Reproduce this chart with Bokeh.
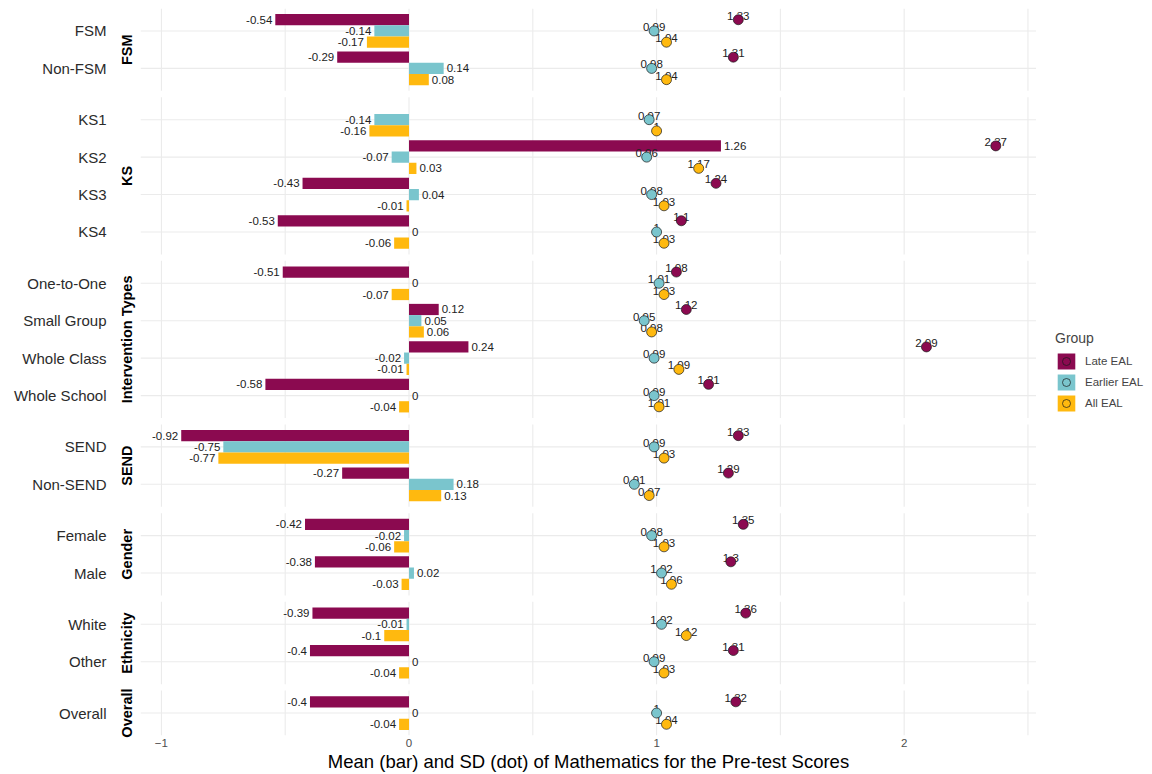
from bokeh.plotting import figure
from bokeh.layouts import row
from bokeh.models import ColumnDataSource, Range1d, LinearAxis, FixedTicker, Legend, LegendItem
from bokeh.core.properties import value
from bokeh.embed import file_html
from bokeh.resources import INLINE

# ---------------- data ----------------
facets = ["FSM", "KS", "Intervention Types", "SEND", "Gender", "Ethnicity", "Overall"]
categories = [
    ["FSM", "Non-FSM"],
    ["KS1", "KS2", "KS3", "KS4"],
    ["One-to-One", "Small Group", "Whole Class", "Whole School"],
    ["SEND", "Non-SEND"],
    ["Female", "Male"],
    ["White", "Other"],
    ["Overall"],
]
groups = ["Late EAL", "Earlier EAL", "All EAL"]
colors = ["#8B0A50", "#7AC5CD", "#FFB90F"]

mean_late = [-0.54, -0.29, None, 1.26, -0.43, -0.53, -0.51, 0.12, 0.24, -0.58,
             -0.92, -0.27, -0.42, -0.38, -0.39, -0.4, -0.4]
mean_earlier = [-0.14, 0.14, -0.14, -0.07, 0.04, 0, 0, 0.05, -0.02, 0,
                -0.75, 0.18, -0.02, 0.02, -0.01, 0, 0]
mean_all = [-0.17, 0.08, -0.16, 0.03, -0.01, -0.06, -0.07, 0.06, -0.01, -0.04,
            -0.77, 0.13, -0.06, -0.03, -0.1, -0.04, -0.04]
sd_late = [1.33, 1.31, None, 2.37, 1.24, 1.1, 1.08, 1.12, 2.09, 1.21,
           1.33, 1.29, 1.35, 1.3, 1.36, 1.31, 1.32]
sd_earlier = [0.99, 0.98, 0.97, 0.96, 0.98, 1, 1.01, 0.95, 0.99, 0.99,
              0.99, 0.91, 0.98, 1.02, 1.02, 0.99, 1]
sd_all = [1.04, 1.04, 1, 1.17, 1.03, 1.03, 1.03, 0.98, 1.09, 1.01,
          1.03, 0.97, 1.03, 1.06, 1.12, 1.03, 1.04]

x_ticks = [-1, 0, 1, 2]
x_title = "Mean (bar) and SD (dot) of Mathematics for the Pre-test Scores"

means = [mean_late, mean_earlier, mean_all]
sds = [sd_late, sd_earlier, sd_all]

# ---------------- facet layout (vertical units) ----------------
CAT, EXP, GAP, DODGE = 100, 60, 17, 30
ypos, facet_bounds, facet_centers = [], [], []
top = 0
for cats in categories:
    n = len(cats)
    bottom = top + CAT * (n - 1) + 2 * EXP
    for i in range(n):
        ypos.append(top + EXP + CAT * i)
    facet_bounds.append((top, bottom))
    facet_centers.append((top + bottom) // 2)
    top = bottom + GAP
total = top - GAP
cat_names = [c for cats in categories for c in cats]

vals = [v for m in means for v in m if v is not None] + [0]
vals += [v for s in sds for v in s if v is not None]
lo, hi = min(vals), max(vals)
pad = 0.05 * (hi - lo)
xmin, xmax = lo - pad, hi + pad

FONT = "Liberation Sans"
FW, FH = 896, 727
LEFT, TOP, BOTTOM, RIGHT_W = 140, 8, 39, 116

p = figure(frame_width=FW, frame_height=FH, x_range=Range1d(xmin, xmax), y_range=Range1d(total, 0),
           output_backend="svg", toolbar_location=None, y_axis_location=None,
           min_border_left=LEFT, min_border_right=0, min_border_top=TOP, min_border_bottom=BOTTOM,
           outline_line_color=None, background_fill_color="white")
p.grid.visible = False

# gridlines per panel
grid_x = [k * 0.5 for k in range(-10, 11) if xmin <= k * 0.5 <= xmax]
gx0, gy0, gy1 = [], [], []
for (t, b) in facet_bounds:
    for gx in grid_x:
        gx0.append(gx); gy0.append(t); gy1.append(b)
p.segment(x0=gx0, x1=gx0, y0=gy0, y1=gy1, line_color="#EBEBEB", line_width=1.1)
p.segment(x0=[xmin] * len(ypos), x1=[xmax] * len(ypos), y0=ypos, y1=ypos,
          line_color="#EBEBEB", line_width=1.1)

offsets = [-DODGE, 0, DODGE]

def fmt(v):
    return f"{v:g}"

srcs = []
for gi in range(3):
    ys, ms, ss = [], [], []
    for k in range(len(ypos)):
        if means[gi][k] is None:
            continue
        ys.append(ypos[k] + offsets[gi]); ms.append(means[gi][k]); ss.append(sds[gi][k])
    srcs.append(ColumnDataSource(dict(y=ys, m=ms, s=ss, ts=[fmt(v) for v in ss])))

for gi in range(3):
    p.hbar(y="y", left=0, right="m", height=DODGE, line_color=None,
           source=srcs[gi], fill_color=colors[gi])

# bar labels
for gi in range(3):
    d = srcs[gi].data
    neg = dict(y=[], m=[], t=[])
    pos = dict(y=[], m=[], t=[])
    for y, m in zip(d["y"], d["m"]):
        tgt = neg if m < 0 else pos
        tgt["y"].append(y); tgt["m"].append(m); tgt["t"].append(fmt(m))
    p.text(x="m", y="y", text="t", source=ColumnDataSource(neg), text_align="right",
           text_baseline="middle", x_offset=-3, text_font=value(FONT),
           text_font_size=value("11.5px"), text_color="#222222")
    p.text(x="m", y="y", text="t", source=ColumnDataSource(pos), text_align="left",
           text_baseline="middle", x_offset=3, text_font=value(FONT),
           text_font_size=value("11.5px"), text_color="#222222")

# dot labels
for gi in range(3):
    p.text(x="s", y="y", text="ts", source=srcs[gi],
           text_align="center", text_baseline="alphabetic", y_offset=-4,
           text_font=value(FONT), text_font_size=value("11.5px"), text_color="#222222")

# dots
for gi in range(3):
    p.scatter(x="s", y="y", marker="circle", size=10, line_color="#1a1a1a", line_width=0.7,
              source=srcs[gi], fill_color=colors[gi])

# axes
def plain(ax):
    ax.axis_line_color = None
    ax.major_tick_line_color = None
    ax.minor_tick_line_color = None
    ax.major_tick_out = 0
    ax.major_tick_in = 0

strip_axis = LinearAxis(ticker=FixedTicker(ticks=facet_centers),
                        major_label_overrides={c: f for c, f in zip(facet_centers, facets)},
                        major_label_orientation="vertical")
plain(strip_axis)
strip_axis.major_label_text_font = FONT
strip_axis.major_label_text_font_style = "bold"
strip_axis.major_label_text_font_size = "14.5px"
strip_axis.major_label_text_color = "black"
strip_axis.major_label_standoff = 5
p.add_layout(strip_axis, "left")

cat_axis = LinearAxis(ticker=FixedTicker(ticks=ypos),
                      major_label_overrides={c: n for c, n in zip(ypos, cat_names)})
plain(cat_axis)
cat_axis.major_label_text_font = FONT
cat_axis.major_label_text_font_size = "15px"
cat_axis.major_label_text_color = "#2b2b2b"
cat_axis.major_label_standoff = 10
p.add_layout(cat_axis, "left")

xa = p.xaxis[0]
xa.ticker = FixedTicker(ticks=x_ticks)
plain(xa)
xa.major_label_text_font = FONT
xa.major_label_text_font_size = "11.5px"
xa.major_label_text_color = "#4D4D4D"
xa.major_label_standoff = 3
xa.axis_label = x_title
xa.axis_label_text_font = FONT
xa.axis_label_text_font_size = "18.5px"
xa.axis_label_text_font_style = "normal"
xa.axis_label_text_color = "black"
xa.axis_label_standoff = 1

# ---------------- legend panel (separate narrow figure on the right) ----------------
# legend-only renderers: zero-height bars and zero-size points (nothing drawn in the panel)
H = TOP + FH + BOTTOM
lg = figure(width=RIGHT_W, height=H, x_range=Range1d(xmin, xmax), y_range=Range1d(total, 0),
            output_backend="svg", toolbar_location=None, x_axis_location=None, y_axis_location=None,
            min_border=0, outline_line_color=None, background_fill_color="white")
lg.grid.visible = False
items = []
for gi, g in enumerate(groups):
    rb = lg.hbar(y="y", left=0, right="m", height=0, line_color=None,
                 source=srcs[gi], fill_color=colors[gi])
    rp = lg.scatter(x="s", y="y", marker="circle", size=0, line_color="#1a1a1a", line_width=0.7,
                    source=srcs[gi], fill_color=colors[gi])
    items.append(LegendItem(label=g, renderers=[rb, rp]))

LP = 4
legend = Legend(items=items, location=(19, 322), title="Group")
legend.title_text_font = FONT
legend.title_text_font_size = "14px"
legend.title_text_font_style = "normal"
legend.title_standoff = 5
legend.label_text_font = FONT
legend.label_text_font_size = "11.5px"
legend.glyph_width = 22
legend.glyph_height = 20
legend.label_height = 20
legend.spacing = 1
legend.margin = 0
legend.padding = LP
legend.label_standoff = 8
legend.border_line_color = None
legend.background_fill_alpha = 0
lg.add_layout(legend, "center")

layout = row(p, lg, spacing=0)
open("out.html", "w").write(file_html(layout, INLINE))
